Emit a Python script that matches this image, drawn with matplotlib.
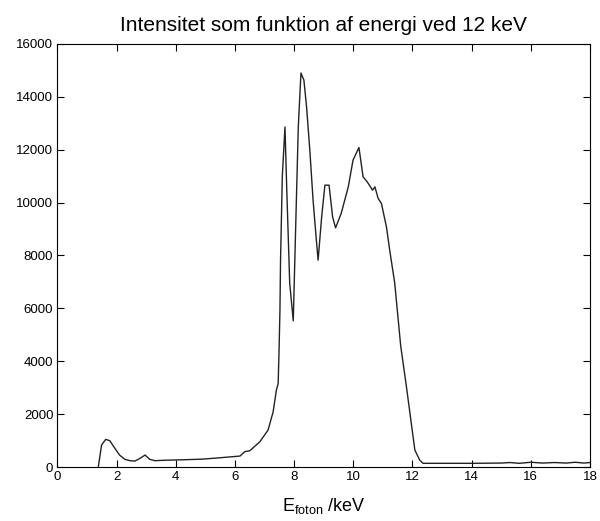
import matplotlib
matplotlib.use("Agg")
import matplotlib.pyplot as plt

# energy (keV) and intensity
energy = [1.38, 1.49, 1.63, 1.77, 1.94, 2.1, 2.28, 2.45, 2.62, 2.79, 2.96, 3.12, 3.29,
          3.6, 3.9, 4.4, 4.92, 5.49, 6.17, 6.33, 6.5, 6.84, 7.12, 7.29, 7.4, 7.46, 7.49,
          7.52, 7.54, 7.6, 7.69, 7.75, 7.85, 7.97, 8.05, 8.14, 8.23, 8.33, 8.42, 8.53,
          8.64, 8.76, 8.81, 8.93, 9.04, 9.18, 9.3, 9.4, 9.59, 9.83, 9.99, 10.19, 10.33,
          10.47, 10.65, 10.73, 10.84, 10.95, 11.12, 11.23, 11.4, 11.6, 11.8, 12.08,
          12.25, 12.36, 13.0, 14.0, 15.0, 15.3, 15.6, 16.0, 16.4, 16.8, 17.2, 17.5,
          17.8, 18.0]
intensity = [0, 831, 1046, 995, 706, 450, 290, 240, 226, 327, 453, 290, 240,
             255, 265, 280, 300, 350, 415, 580, 615, 955, 1400, 2090, 2910, 3160, 4420,
             5930, 7820, 11000, 12860, 10500, 6950, 5530, 9000, 12860, 14900, 14630, 13620,
             11980, 10090, 8460, 7825, 9460, 10660, 10660, 9460, 9046, 9590, 10596, 11605,
             12085, 10974, 10785, 10471, 10596, 10157, 9968, 9083, 8203, 6955, 4600, 3000,
             642, 250, 140, 140, 140, 150, 170, 140, 180, 150, 170, 150, 180, 150, 170]

x_ticks = [0, 2, 4, 6, 8, 10, 12, 14, 16, 18]
y_ticks = [0, 2000, 4000, 6000, 8000, 10000, 12000, 14000, 16000]

plt.rcParams["font.family"] = ["Liberation Sans", "DejaVu Sans"]
plt.rcParams["mathtext.fontset"] = "custom"
plt.rcParams["mathtext.rm"] = "Liberation Sans"
plt.rcParams["mathtext.it"] = "Liberation Sans:italic"

fig = plt.figure(figsize=(6.0, 5.21), dpi=100)
ax = fig.add_axes([0.0958, 0.1036, 0.8875, 0.812])

ax.plot(energy, intensity, color="#222222", linewidth=1.0)

ax.set_xlim(0, 18)
ax.set_ylim(0, 16000)
ax.set_xticks(x_ticks)
ax.set_yticks(y_ticks)
ax.tick_params(direction="in", top=True, right=True, length=5, width=0.8,
               labelsize=9.5, pad=3)
for s in ax.spines.values():
    s.set_linewidth(0.8)

ax.set_title("Intensitet som funktion af energi ved 12 keV", fontsize=15, pad=9)
ax.set_xlabel(r"E$_{\mathrm{foton}}$ /keV", fontsize=13, labelpad=9)

fig.savefig("out.png", dpi=100)
